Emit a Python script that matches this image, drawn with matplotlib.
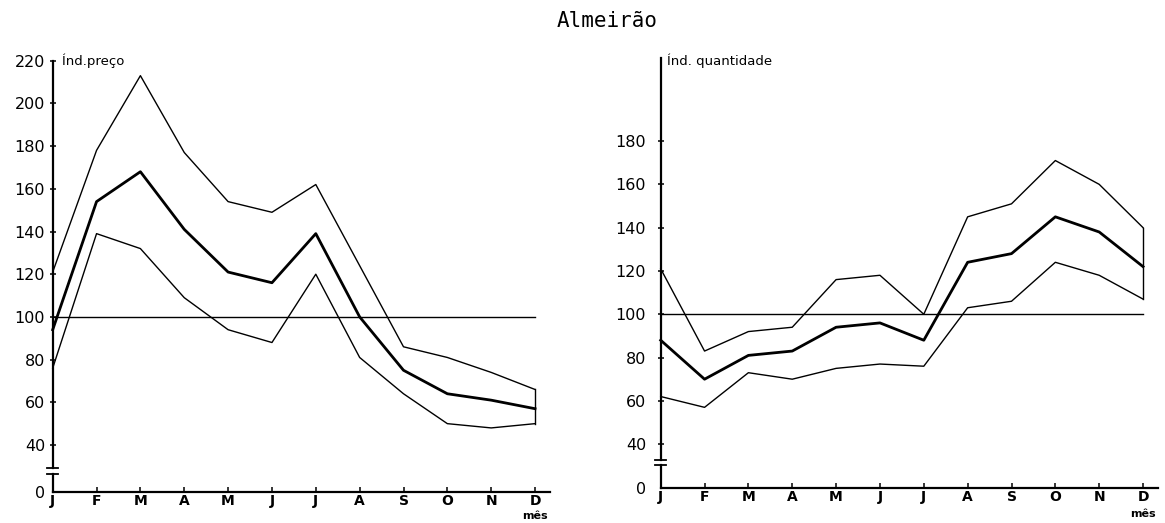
import numpy as np
import matplotlib
matplotlib.use("Agg")
import matplotlib.pyplot as plt

# months (Portuguese initials)
meses = ["J", "F", "M", "A", "M", "J", "J", "A", "S", "O", "N", "D"]

# indice de preco (left panel)
preco_sup = [121, 178, 213, 177, 154, 149, 162, 124, 86, 81, 74, 66]
preco_med = [94, 154, 168, 141, 121, 116, 139, 100, 75, 64, 61, 57]
preco_inf = [76, 139, 132, 109, 94, 88, 120, 81, 64, 50, 48, 50]
preco_ticks = [40, 60, 80, 100, 120, 140, 160, 180, 200, 220]

# indice de quantidade (right panel)
quant_sup = [121, 83, 92, 94, 116, 118, 100, 145, 151, 171, 160, 140]
quant_med = [88, 70, 81, 83, 94, 96, 88, 124, 128, 145, 138, 122]
quant_inf = [62, 57, 73, 70, 75, 77, 76, 103, 106, 124, 118, 107]
quant_ticks = [40, 60, 80, 100, 120, 140, 160, 180]

W, H = 1165, 523
fig = plt.figure(figsize=(W / 100., H / 100.), dpi=100)

x = np.arange(len(meses))
XLIM = (-0.3, 11.7)
YLIM = (10, 225)
pxm = 43.85  # px per month


def make_axes(x0_px, y_ref_px, v_ref, ppu):
    # place axes so that month 0 sits at x0_px and value v_ref at y_ref_px
    left = x0_px - (0 - XLIM[0]) * pxm
    width = (XLIM[1] - XLIM[0]) * pxm
    top = y_ref_px - (YLIM[1] - v_ref) * ppu
    bot = y_ref_px + (v_ref - YLIM[0]) * ppu
    return fig.add_axes([left / W, (H - bot) / H, width / W, (bot - top) / H])


def panel(ax, sup, med, inf, ticks, zero_v, brk_hi, brk_lo, ytop, label, lab_x, lab_y, ypad, mes_y):
    ax.set_xlim(*XLIM)
    ax.set_ylim(*YLIM)
    for s in ["top", "right"]:
        ax.spines[s].set_visible(False)
    ax.spines["left"].set_position(("data", 0))
    ax.spines["left"].set_bounds(brk_hi, ytop)
    ax.spines["bottom"].set_position(("data", zero_v))
    ax.spines["bottom"].set_bounds(0, 11.35)
    for s in ["left", "bottom"]:
        ax.spines[s].set_linewidth(1.6)

    ax.set_xticks(x)
    ax.set_xticklabels(meses, fontsize=10, fontweight="bold")
    ax.tick_params(axis="x", direction="in", length=3.5, width=1.1, pad=1.5)

    ax.set_yticks([zero_v] + ticks)
    ax.set_yticklabels(["0"] + [str(t) for t in ticks], fontsize=11.5)
    ax.tick_params(axis="y", direction="inout", length=5, width=1.1, pad=ypad)
    ax.yaxis.get_major_ticks()[0].tick1line.set_visible(False)

    # broken axis stub and break marks
    ax.plot([0, 0], [zero_v, brk_lo], color="black", lw=1.6, clip_on=False)
    for yb in [brk_hi, brk_lo]:
        ax.plot([-0.12, 0.12], [yb, yb], color="black", lw=1.3, clip_on=False)

    ax.plot(x[[0, -1]], [100, 100], color="black", lw=1.0)
    ax.plot(x, sup, color="black", lw=1.0, clip_on=False)
    ax.plot(x, med, color="black", lw=2.0, clip_on=False)
    ax.plot(x, inf, color="black", lw=1.0, clip_on=False)
    ax.plot([x[-1], x[-1]], [inf[-1], sup[-1]], color="black", lw=1.0, clip_on=False)

    ax.text(lab_x, lab_y, label, fontsize=9.5, ha="left", va="center")
    ax.text(x[-1], mes_y, "mês", fontsize=8, fontweight="bold", ha="center", va="center", clip_on=False)


ax1 = make_axes(52.7, 60.7, 220, 2.135)
panel(ax1, preco_sup, preco_med, preco_inf, preco_ticks,
      zero_v=18.1, brk_hi=29.2, brk_lo=26.5, ytop=220,
      label="Índ.preço", lab_x=0.21, lab_y=220, ypad=3, mes_y=6.6)

ax2 = make_axes(660.7, 292.6, 110, 2.165)
panel(ax2, quant_sup, quant_med, quant_inf, quant_ticks,
      zero_v=19.7, brk_hi=32.7, brk_lo=30.4, ytop=218.4,
      label="Índ. quantidade", lab_x=0.14, lab_y=217.1, ypad=8, mes_y=7.7)

fig.text(607. / W, 1 - 21. / H, "Almeirão", family="DejaVu Sans Mono", fontsize=15,
         ha="center", va="center")

fig.savefig("out.png", dpi=100)
